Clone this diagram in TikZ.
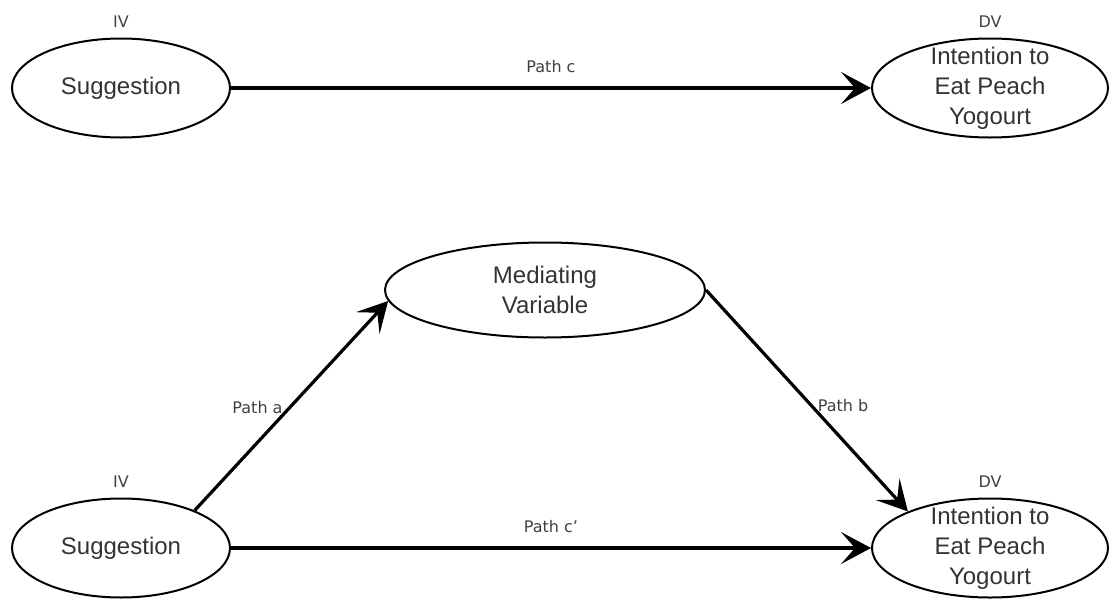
\documentclass[tikz,border=0pt]{standalone}
\usepackage{fontspec}
\setmainfont{Liberation Sans}
\newfontfamily\pathfont{DejaVu Sans}
\usetikzlibrary{shapes.geometric,arrows.meta}
\tikzset{
    var/.style={ellipse,draw,line width=2pt,minimum width=218pt,minimum height=99pt,
        inner sep=-10pt,align=center,text=black!80,font=\fontsize{24}{30}\selectfont},
    link/.style={line width=3.2pt,-{Stealth[length=30pt,width=32pt,inset=14pt]}},
    tag/.style={font=\pathfont\fontsize{16}{19}\selectfont,text=black!75}
}

\begin{document}
\begin{tikzpicture}[x=1pt,y=-1pt]
    \useasboundingbox (0,0) rectangle (1112,600);
    % total effect
    \node[var,label={[tag,label distance=6pt]above:IV}] (sug) at (121,88) {Suggestion};
    \node[var,minimum width=236pt,label={[tag,label distance=6pt]above:DV}] (int) at (990,88) {Intention to\\Eat Peach\\Yogourt};
    \draw[link] (sug) -- node[tag,above=10pt]{Path c} (int);
    % mediated effect
    \node[var,minimum width=320pt,minimum height=95pt] (med) at (545,290) {Mediating\\Variable};
    \node[var,label={[tag,label distance=6pt]above:IV}] (sug2) at (121,548) {Suggestion};
    \node[var,minimum width=236pt,label={[tag,label distance=6pt]above:DV}] (int2) at (990,548) {Intention to\\Eat Peach\\Yogourt};
    \draw[link] (sug2.27) -- node[tag,left=2pt,pos=0.49]{Path a} (med.184);
    \draw[link] (med.east) -- node[tag,right=2pt,pos=0.52]{Path b} (int2.156);
    \draw[link] (sug2) -- node[tag,above=10pt]{Path c’} (int2);
\end{tikzpicture}
\end{document}
